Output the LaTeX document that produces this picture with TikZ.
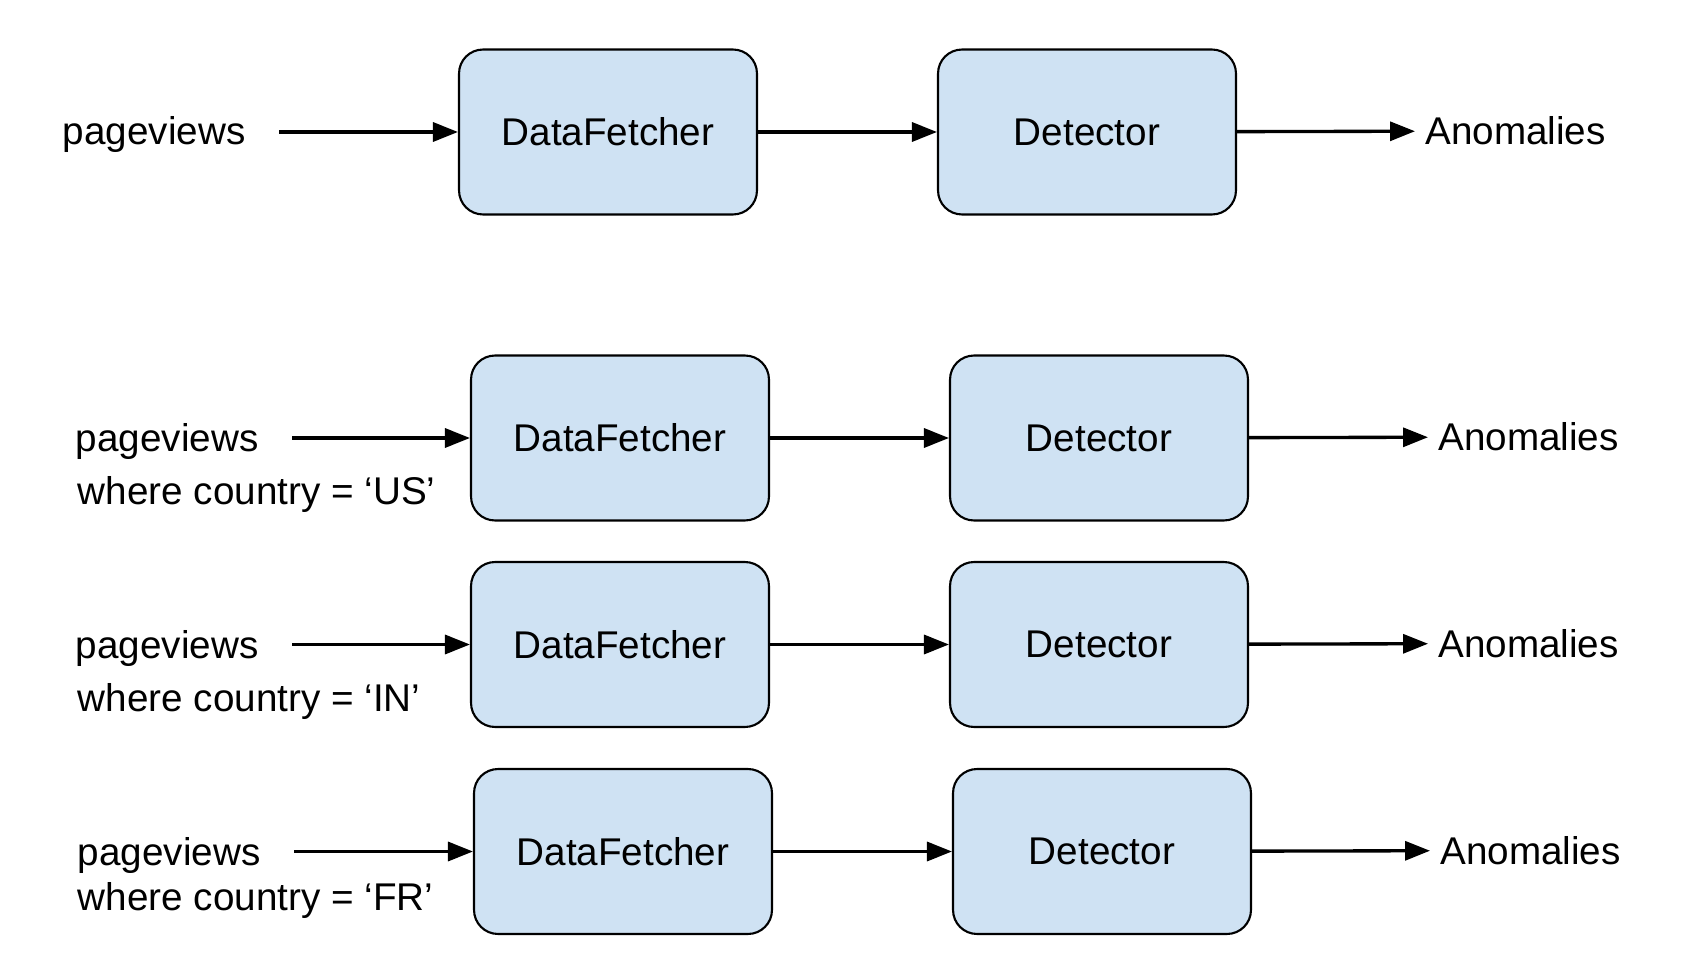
\documentclass[tikz,border=0pt]{standalone}
\usepackage{fontspec}
\setmainfont{Liberation Sans}
\usetikzlibrary{positioning,arrows.meta}
\definecolor{boxblue}{HTML}{CFE2F3}

\begin{document}
\begin{tikzpicture}[x=0.02cm,y=-0.02cm,
  every node/.style={font=\fontsize{22}{26}\selectfont},
  stage/.style={draw,fill=boxblue,rounded corners=0.48cm,line width=1.2pt,
    minimum width=5.96cm,minimum height=3.3cm,inner sep=0pt},
  txt/.style={anchor=base west,inner sep=0pt},
  result/.style={anchor=west,inner sep=0.2cm},
  flow/.style={line width=1.9pt,-{Triangle[length=0.5cm,width=0.38cm]}}]
\useasboundingbox (0,0) rectangle (1690,976);

% single pipeline
\node[stage] (df1) at (608,132) {DataFetcher};
\node[stage] (det1) at (1087,132) {Detector};
\node[txt] (pv1) at (62.5,145) {pageviews};
\coordinate (in1) at (279,132);
\node[result] (out1) at (1415,131) {Anomalies};
\draw[flow] (in1) -- (df1);
\draw[flow] (df1) -- (det1);
\draw[flow] (det1) -- (out1);

% one pipeline per country
\node[stage] (df2) at (620,438) {DataFetcher};
\node[stage] (det2) at (1099,438) {Detector};
\node[txt] (pv2) at (75.5,451) {pageviews};
\node[txt] (wh2) at (77.5,504) {where country = ‘US’};
\coordinate (in2) at (292,438);
\node[result] (out2) at (1428,437) {Anomalies};
\draw[flow] (in2) -- (df2);
\draw[flow] (df2) -- (det2);
\draw[flow] (det2) -- (out2);

\node[stage] (df3) at (620,644.5) {DataFetcher};
\node[stage] (det3) at (1099,644.5) {Detector};
\node[txt] (pv3) at (75.5,658) {pageviews};
\node[txt] (wh3) at (77.5,711) {where country = ‘IN’};
\coordinate (in3) at (292,644.5);
\node[result] (out3) at (1428,643.5) {Anomalies};
\draw[flow] (in3) -- (df3);
\draw[flow] (df3) -- (det3);
\draw[flow] (det3) -- (out3);

\node[stage] (df4) at (623,851.5) {DataFetcher};
\node[stage] (det4) at (1102,851.5) {Detector};
\node[txt] (pv4) at (77.5,865) {pageviews};
\node[txt] (wh4) at (77.5,910) {where country = ‘FR’};
\coordinate (in4) at (294,851.5);
\node[result] (out4) at (1430,850.5) {Anomalies};
\draw[flow] (in4) -- (df4);
\draw[flow] (df4) -- (det4);
\draw[flow] (det4) -- (out4);
\end{tikzpicture}
\end{document}
